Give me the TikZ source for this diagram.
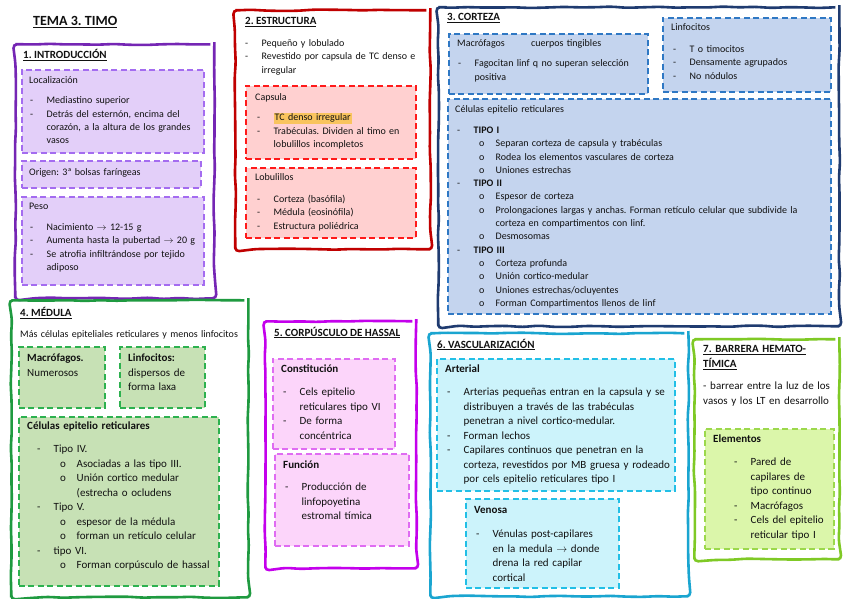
\documentclass[tikz,border=0pt]{standalone}
\usepackage{fontspec}
\setmainfont{Carlito}
\frenchspacing
\usetikzlibrary{decorations.pathmorphing}
\definecolor{ink}{HTML}{111111}
\definecolor{introF}{HTML}{7526B4}
\definecolor{introD}{HTML}{A46CF0}
\definecolor{introB}{HTML}{E3CFF9}
\definecolor{estrF}{HTML}{C00000}
\definecolor{estrD}{HTML}{FF1A1A}
\definecolor{estrB}{HTML}{FFD0D0}
\definecolor{hlc}{HTML}{F9C45E}
\definecolor{cortF}{HTML}{1F3B70}
\definecolor{cortD}{HTML}{2F78C4}
\definecolor{cortB}{HTML}{C4D4EE}
\definecolor{meduF}{HTML}{1F9A40}
\definecolor{meduD}{HTML}{2DB14F}
\definecolor{meduB}{HTML}{C7E1B5}
\definecolor{hassF}{HTML}{C400EC}
\definecolor{hassD}{HTML}{DF6CF2}
\definecolor{hassB}{HTML}{FCD5FA}
\definecolor{vascF}{HTML}{1AA5D0}
\definecolor{vascD}{HTML}{22BFE6}
\definecolor{vascB}{HTML}{CCF3FB}
\definecolor{barrF}{HTML}{7FC925}
\definecolor{barrD}{HTML}{9CD84C}
\definecolor{barrB}{HTML}{DBF6AA}
% list lines: dash / o items with hanging indent
\newcommand\tl[2][7pt]{#2\par\vspace{#1}}
\newcommand\di[2][0pt]{\hangindent=\dimexpr#1+16.5pt\relax\hangafter=1 \hspace*{#1}\makebox[16.5pt][l]{-}#2\par}
\newcommand\oi[2][22pt]{\hangindent=\dimexpr#1+16.5pt\relax\hangafter=1 \hspace*{#1}\makebox[16.5pt][l]{o}#2\par}
\newcommand\hl[1]{{\fboxsep=1pt\colorbox{hlc}{#1}}}
\tikzset{
  frame/.style={draw=#1, line width=2.6pt, decorate, decoration={random steps, segment length=16pt, amplitude=0.7pt}, rounded corners=4pt, anchor=north west, inner sep=0pt},
  panel/.style 2 args={draw=#1, fill=#2, line width=1.8pt, dash pattern=on 6pt off 3.5pt, anchor=north west, inner sep=0pt},
  dims/.style 2 args={minimum width=#1pt, minimum height=#2pt},
  head/.style={anchor=base west, inner sep=0pt, font=\fontsize{11}{15.4}\selectfont\bfseries},
  txt/.style={anchor=base west, inner sep=0pt, align=left, text width=#1pt, font=\fontsize{10}{13.3}\selectfont},
  txtl/.style={anchor=base west, inner sep=0pt, align=left, text width=#1pt, font=\fontsize{11}{14.5}\selectfont}
}
\pgfmathsetseed{7}

\begin{document}
\begin{tikzpicture}[x=1pt, y=-1pt, text=ink]
  \useasboundingbox[fill=white] (0,0) rectangle (848,599);
  \node[anchor=base west, inner sep=0pt, font=\fontsize{14}{16}\selectfont\bfseries] (title) at (33,25.5) {\underline{TEMA 3. TIMO}};

  % 1. introduccion
  \node[frame=introF, dims={199}{254}] (intro) at (14,43) {};
  \node[head] (introH) at (23,58.3) {\underline{1. INTRODUCCIÓN}};
  \node[panel={introD}{introB}, dims={182}{83}] (loc) at (21,69) {};
  \node[txt=172] (locT) at (29,83.5) {\tl{Localización}\di[1pt]{Mediastino superior}\di[1pt]{Detrás del esternón, encima del\newline corazón, a la altura de los grandes\newline vasos}};
  \node[panel={introD}{introB}, dims={179}{27}] (orig) at (21,160) {};
  \node[txt=170] (origT) at (29,175.5) {Origen: 3ª bolsas faríngeas};
  \node[panel={introD}{introB}, dims={182}{88}] (peso) at (21,196) {};
  \node[txt=172] (pesoT) at (29,209.5) {\tl[7.7pt]{Peso}\di[1pt]{Nacimiento $\rightarrow$ 12-15 g}\di[1pt]{Aumenta hasta la pubertad $\rightarrow$ 20 g}\di[1pt]{Se atrofia infiltrándose por tejido\newline adiposo}};

  % 2. estructura
  \node[frame=estrF, dims={195}{239}] (estr) at (234,9) {};
  \node[head] (estrH) at (245,25) {\underline{2. ESTRUCTURA}};
  \node[txt=178] (estrT) at (245,46.5) {\di{Pequeño y lobulado}\di{Revestido por capsula de TC denso e\newline irregular}};
  \node[panel={estrD}{estrB}, dims={170}{73}] (caps) at (245,85) {};
  \node[txt=155] (capsT) at (255,100.5) {\tl{Capsula}\di[2pt]{\hl{TC denso irregular}}\di[2pt]{Trabéculas. Dividen al timo en\newline lobulillos incompletos}};
  \node[panel={estrD}{estrB}, dims={170}{70}] (lobu) at (245,167) {};
  \node[txt=155] (lobuT) at (255,180.5) {\tl[8.7pt]{Lobulillos}\di[2pt]{Corteza (basófila)}\di[2pt]{Médula (eosinófila)}\di[2pt]{Estructura poliédrica}};

  % 3. corteza
  \node[frame=cortF, dims={401}{319}] (cort) at (437,6) {};
  \node[head] (cortH) at (447,21) {\underline{3. CORTEZA}};
  \node[panel={cortD}{cortB}, dims={199}{60}] (macC) at (448,33) {};
  \node[txt=185] (macCT) at (457,46.5) {\tl{\makebox[74pt][l]{Macrófagos}cuerpos tingibles}\di[1pt]{Fagocitan linf q no superan selección\newline positiva}};
  \node[panel={cortD}{cortB}, dims={168}{74}] (linC) at (662,17) {};
  \node[txt=150] (linCT) at (671,30.5) {\tl[8.7pt]{Linfocitos}\di[2pt]{T o timocitos}\di[2pt]{Densamente agrupados}\di[2pt]{No nódulos}};
  \node[panel={cortD}{cortB}, dims={383}{215}] (celC) at (447,98) {};
  \node[txt=368] (celCT) at (455,112.5) {\tl[7.7pt]{Células epitelio reticulares}%
    \di[2pt]{\textbf{TIPO I}}\oi[24pt]{Separan corteza de capsula y trabéculas}\oi[24pt]{Rodea los elementos vasculares de corteza}\oi[24pt]{Uniones estrechas}%
    \di[2pt]{\textbf{TIPO II}}\oi[24pt]{Espesor de corteza}\oi[24pt]{Prolongaciones largas y anchas. Forman retículo celular que subdivide la\newline corteza en compartimentos con linf.}\oi[24pt]{Desmosomas}%
    \di[2pt]{\textbf{TIPO III}}\oi[24pt]{Corteza profunda}\oi[24pt]{Unión cortico-medular}\oi[24pt]{Uniones estrechas/ocluyentes}\oi[24pt]{Forman Compartimentos llenos de linf}};

  % 4. medula
  \node[frame=meduF, dims={237}{297}] (medu) at (10,299) {};
  \node[head] (meduH) at (20,316.7) {\underline{4. MÉDULA}};
  \node[txt=222] (meduT) at (20,337.5) {Más células epiteliales reticulares y menos linfocitos};
  \node[panel={meduD}{meduB}, dims={86}{61}] (macM) at (18,346) {};
  \node[txtl=75] (macMT) at (27,361.5) {\textbf{Macrófagos.}\newline Numerosos};
  \node[panel={meduD}{meduB}, dims={85}{61}] (linM) at (119,346) {};
  \node[txtl=75] (linMT) at (128,361.5) {\textbf{Linfocitos:}\newline dispersos de\newline forma laxa};
  \node[panel={meduD}{meduB}, dims={200}{169}] (celM) at (18,416) {};
  \node[txtl=186] (celMT) at (27,429.5) {\tl[8.5pt]{\textbf{Células epitelio reticulares}}%
    \di[10pt]{Tipo IV.}\oi[33pt]{Asociadas a las tipo III.}\oi[33pt]{Unión cortico medular\newline (estrecha o ocludens}%
    \di[10pt]{Tipo V.}\oi[33pt]{espesor de la médula}\oi[33pt]{forman un retículo celular}%
    \di[10pt]{tipo VI.}\oi[33pt]{Forman corpúsculo de hassal}};

  % 5. corpusculo de hassal
  \node[frame=hassF, dims={151}{247}] (hass) at (264,320) {};
  \node[head] (hassH) at (274,336) {\underline{5. CORPÚSCULO DE HASSAL}};
  \node[panel={hassD}{hassB}, dims={122}{90}] (cons) at (272,358) {};
  \node[txtl=110] (consT) at (281,372.5) {\tl[8.5pt]{\textbf{Constitución}}\di[2pt]{Cels epitelio\newline reticulares tipo VI}\di[2pt]{De forma\newline concéntrica}};
  \node[panel={hassD}{hassB}, dims={134}{92}] (func) at (274,453) {};
  \node[txtl=120] (funcT) at (283,468.5) {\tl[7.5pt]{\textbf{Función}}\di[2pt]{Producción de\newline linfopoyetina\newline estromal tímica}};

  % 6. vascularizacion
  \node[frame=vascF, dims={258}{263}] (vasc) at (429,332) {};
  \node[head] (vascH) at (437,348) {\underline{6. VASCULARIZACIÓN}};
  \node[panel={vascD}{vascB}, dims={238}{132}] (art) at (436,358) {};
  \node[txtl=226] (artT) at (445,372.5) {\tl[8.5pt]{\textbf{Arterial}}%
    \di[2pt]{Arterias pequeñas entran en la capsula y se\newline distribuyen a través de las trabéculas\newline penetran a nivel cortico-medular.}%
    \di[2pt]{Forman lechos}%
    \di[2pt]{Capilares continuos que penetran en la\newline corteza, revestidos por MB gruesa y rodeado\newline por cels epitelio reticulares tipo I}};
  \node[panel={vascD}{vascB}, dims={153}{89}] (ven) at (465,498) {};
  \node[txtl=140] (venT) at (474,513.5) {\tl[9.5pt]{\textbf{Venosa}}\di[2pt]{Vénulas post-capilares\newline en la medula $\rightarrow$ donde\newline drena la red capilar\newline cortical}};

  % 7. barrera hemato-timica
  \node[frame=barrF, dims={145}{220}] (barr) at (693,338) {};
  \node[head, text width=130pt, align=left] (barrH) at (703,352.3) {\underline{7. BARRERA HEMATO-}\newline\underline{TÍMICA}};
  \node[txtl=132] (barrT) at (703,389.5) {- barrear entre la luz de los\newline vasos y los LT en desarrollo};
  \node[panel={barrD}{barrB}, dims={129}{120}] (elem) at (704,428) {};
  \node[txtl=118] (elemT) at (713,442.5) {\tl[8.5pt]{\textbf{Elementos}}\di[21pt]{Pared de\newline capilares de\newline tipo continuo}\di[21pt]{Macrófagos}\di[21pt]{Cels del epitelio\newline reticular tipo I}};
\end{tikzpicture}
\end{document}
